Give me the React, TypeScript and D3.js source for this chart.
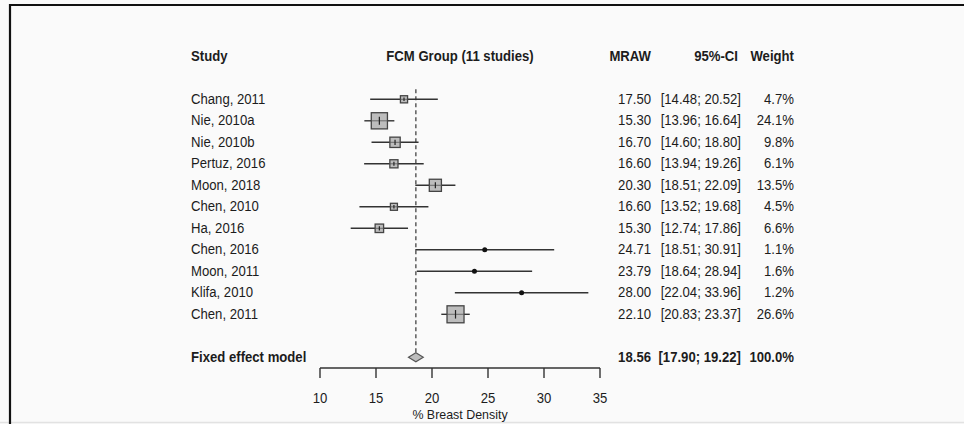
import React from "react";
import * as d3 from "d3";

const studies = ["Chang, 2011", "Nie, 2010a", "Nie, 2010b", "Pertuz, 2016", "Moon, 2018", "Chen, 2010", "Ha, 2016", "Chen, 2016", "Moon, 2011", "Klifa, 2010", "Chen, 2011"];
const mraw = [17.5, 15.3, 16.7, 16.6, 20.3, 16.6, 15.3, 24.71, 23.79, 28.0, 22.1];
const lower = [14.48, 13.96, 14.6, 13.94, 18.51, 13.52, 12.74, 18.51, 18.64, 22.04, 20.83];
const upper = [20.52, 16.64, 18.8, 19.26, 22.09, 19.68, 17.86, 30.91, 28.94, 33.96, 23.37];
const weights = [4.7, 24.1, 9.8, 6.1, 13.5, 4.5, 6.6, 1.1, 1.6, 1.2, 26.6];
const fixedLabel = "Fixed effect model";
const fixedEst = 18.56;
const fixedLo = 17.9;
const fixedHi = 19.22;
const fixedWeight = 100.0;
const ticks = [10, 15, 20, 25, 30, 35];
const headers = ["Study", "FCM Group (11 studies)", "MRAW", "95%-CI", "Weight"];
const axisTitle = "% Breast Density";

const W = 964;
const H = 424;
const SX = 0.92;
const FONT = "'Liberation Sans', Arial, sans-serif";
const TXT = "#1c1c1c";

function T({ x, y, anchor = "start", bold = false, size = 14.3, children }: any) {
  return (
    <text
      transform={`translate(${x},${y}) scale(${SX},1)`}
      textAnchor={anchor}
      dominantBaseline="central"
      fontFamily={FONT}
      fontSize={size}
      fontWeight={bold ? "bold" : "normal"}
      fill={TXT}
    >
      {children}
    </text>
  );
}

export default function App() {
  const x = d3.scaleLinear().domain([10, 35]).range([320, 600]);
  const row = d3.scaleLinear().domain([0, 10]).range([99.3, 314.3]);
  const box = d3.scaleSqrt().domain([0, 26.6]).range([0, 17]);
  const headY = row(-2);
  const fixY = row(12);
  const axisY = 368;
  const f2 = d3.format(".2f");
  const f1 = d3.format(".1f");
  const colMraw = 651;
  const colCI = 741;
  const colW = 794;
  const studyX = 191;

  return (
    <svg width={W} height={H} style={{ position: "absolute", left: 0, top: 0, display: "block" }}>
      <rect x={0} y={0} width={W} height={H} fill="#fafafa" />
      <line x1={0} x2={W} y1={422.5} y2={422.5} stroke="#e2e2e2" strokeWidth={1.5} />
      <path d={`M10,${H} L10,5 L${W},5`} fill="none" stroke="#111" strokeWidth={2.2} />

      {/* headers */}
      <T x={studyX} y={headY} bold>{headers[0]}</T>
      <T x={x(22.5)} y={headY} anchor="middle" bold>{headers[1]}</T>
      <T x={colMraw} y={headY} anchor="end" bold>{headers[2]}</T>
      <T x={colCI - 3} y={headY} anchor="end" bold>{headers[3]}</T>
      <T x={colW} y={headY} anchor="end" bold>{headers[4]}</T>

      {/* reference dashed line */}
      <line
        x1={x(fixedEst)}
        x2={x(fixedEst)}
        y1={row(0) - 10}
        y2={fixY - 5}
        stroke="#444"
        strokeWidth={1.3}
        strokeDasharray="4,3"
      />

      {studies.map((s, i) => {
        const y = row(i);
        const sz = box(weights[i]);
        const small = sz < 5;
        return (
          <g key={s}>
            <T x={studyX} y={y}>{s}</T>
            <line x1={x(lower[i])} x2={x(upper[i])} y1={y} y2={y} stroke="#333" strokeWidth={1.4} />
            {small ? (
              <circle cx={x(mraw[i])} cy={y} r={2.5} fill="#111" />
            ) : (
              <g>
                <rect
                  x={x(mraw[i]) - sz / 2}
                  y={y - sz / 2}
                  width={sz}
                  height={sz}
                  fill="#bdbdbd"
                  stroke="#444"
                  strokeWidth={1.3}
                />
                <line x1={x(mraw[i]) - sz / 2} x2={x(mraw[i]) + sz / 2} y1={y} y2={y} stroke="#555" strokeWidth={0.8} />
                <line x1={x(mraw[i])} x2={x(mraw[i])} y1={y - sz * 0.25} y2={y + sz * 0.25} stroke="#222" strokeWidth={1.2} />
              </g>
            )}
            <T x={colMraw} y={y} anchor="end">{f2(mraw[i])}</T>
            <T x={colCI} y={y} anchor="end">{`[${f2(lower[i])}; ${f2(upper[i])}]`}</T>
            <T x={colW} y={y} anchor="end">{`${f1(weights[i])}%`}</T>
          </g>
        );
      })}

      {/* fixed effect */}
      <T x={studyX} y={fixY} bold>{fixedLabel}</T>
      <path
        d={`M${x(fixedLo)},${fixY} L${x(fixedEst)},${fixY - 4.5} L${x(fixedHi)},${fixY} L${x(fixedEst)},${fixY + 4.5} Z`}
        fill="#bdbdbd"
        stroke="#555"
        strokeWidth={1.2}
      />
      <T x={colMraw} y={fixY} anchor="end" bold>{f2(fixedEst)}</T>
      <T x={colCI} y={fixY} anchor="end" bold>{`[${f2(fixedLo)}; ${f2(fixedHi)}]`}</T>
      <T x={colW} y={fixY} anchor="end" bold>{`${f1(fixedWeight)}%`}</T>

      {/* axis */}
      <line x1={x(10)} x2={x(35)} y1={axisY} y2={axisY} stroke="#333" strokeWidth={1.4} />
      {ticks.map((t) => (
        <g key={t}>
          <line x1={x(t)} x2={x(t)} y1={axisY} y2={axisY + 10} stroke="#333" strokeWidth={1.4} />
          <T x={x(t)} y={398} anchor="middle">{String(t)}</T>
        </g>
      ))}
      <T x={x(22.5)} y={414} anchor="middle" size={13.5}>{axisTitle}</T>
    </svg>
  );
}
